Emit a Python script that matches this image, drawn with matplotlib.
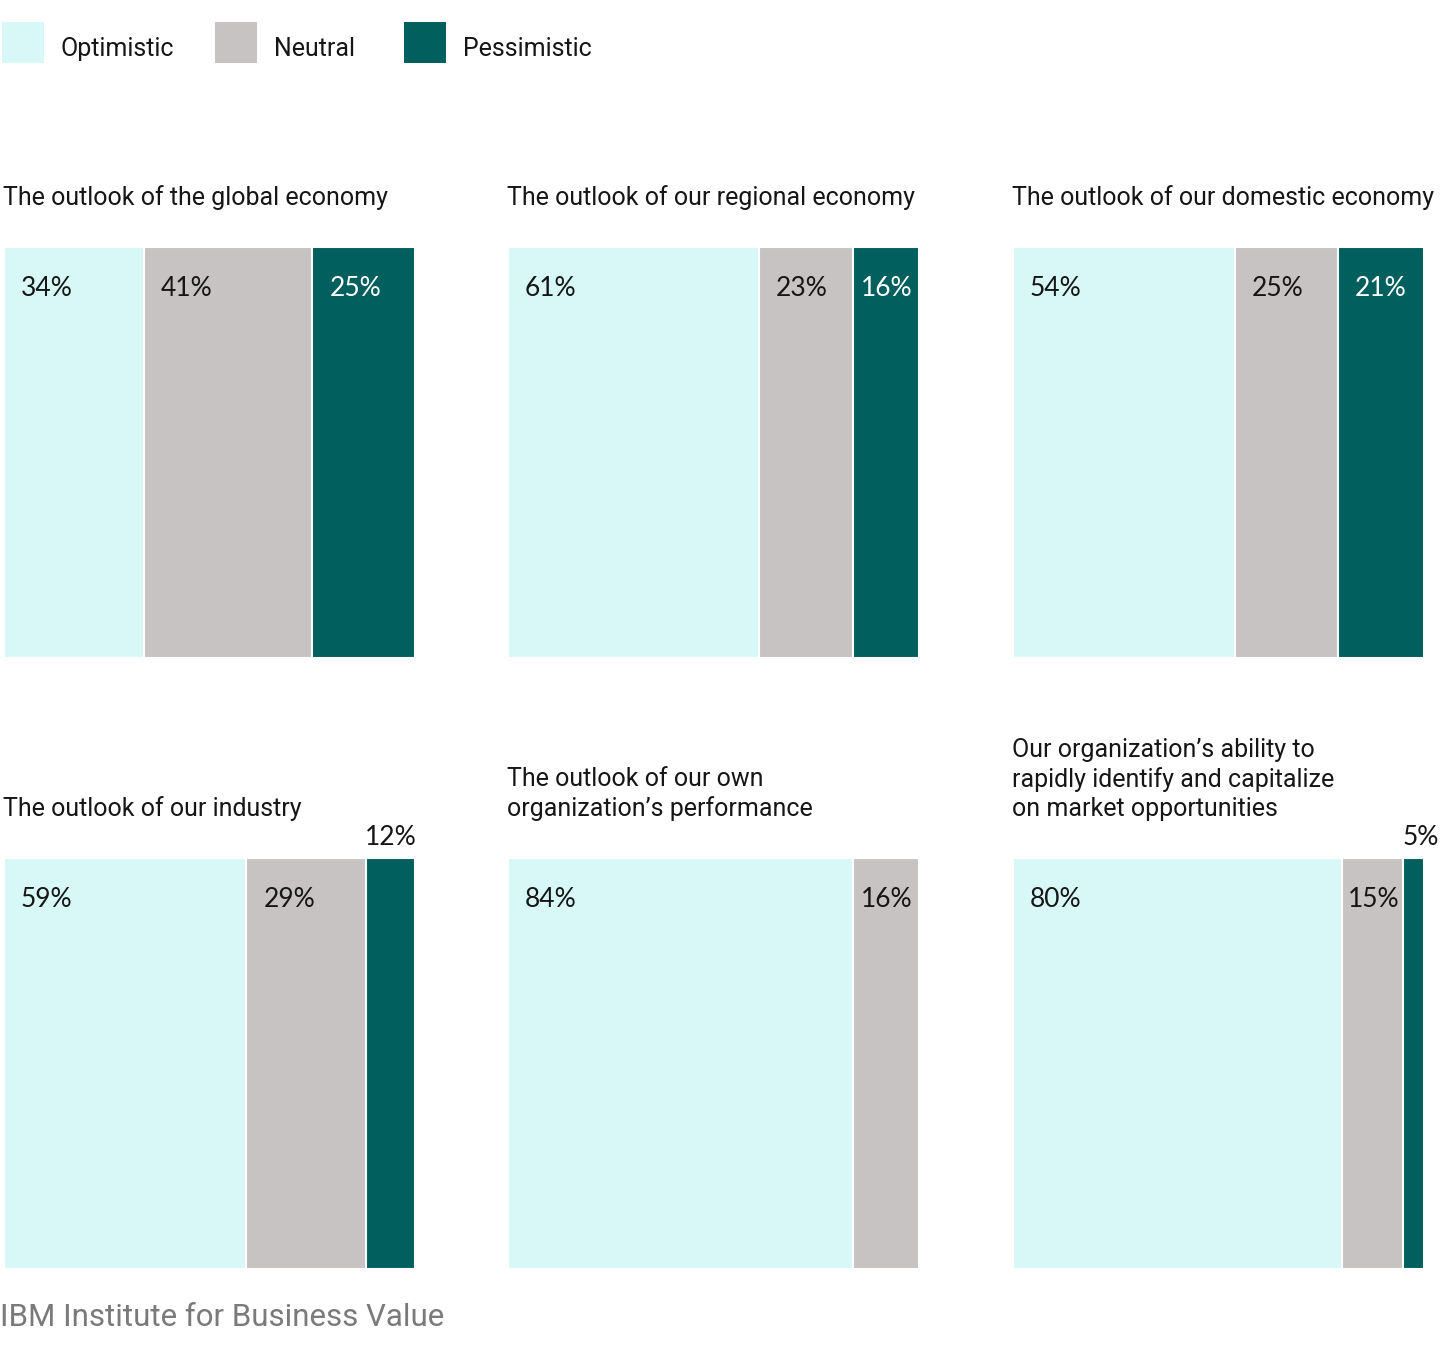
import matplotlib
matplotlib.use("Agg")
import matplotlib.pyplot as plt
from matplotlib.patches import Rectangle

# ---- data ----
categories = [
    "The outlook of the global economy",
    "The outlook of our regional economy",
    "The outlook of our domestic economy",
    "The outlook of our industry",
    "The outlook of our own\norganization\u2019s performance",
    "Our organization\u2019s ability to\nrapidly identify and capitalize\non market opportunities",
]
optimistic = [34, 61, 54, 59, 84, 80]
neutral = [41, 23, 25, 29, 16, 15]
pessimistic = [25, 16, 21, 12, 0, 5]
series_names = ["Optimistic", "Neutral", "Pessimistic"]
footer = "IBM Institute for Business Value"

# ---- style ----
colors = ["#D8F8F8", "#C8C3C3", "#015F5E"]
text_colors = ["#161616", "#161616", "#FFFFFF"]
TITLE_FONT = ["Roboto", "DejaVu Sans"]
LABEL_FONT = ["Lato", "DejaVu Sans"]

W, H = 1456, 1372
fig = plt.figure(figsize=(W / 100, H / 100), dpi=100)
fig.patch.set_facecolor("white")

col_left = [4, 508, 1013]
row_top = [247, 858]
size = 411

# legend
leg_x = [2, 215, 404]
for i, name in enumerate(series_names):
    x0 = leg_x[i]
    fig.patches.append(Rectangle((x0 / W, 1 - 63 / H), 42 / W, 41 / H,
                                 transform=fig.transFigure, facecolor=colors[i],
                                 edgecolor="none"))
    fig.text((x0 + 59) / W, 1 - 49 / H, name, fontsize=18, family=TITLE_FONT,
             fontweight="normal", color="#161616", va="center", ha="left")

for k, cat in enumerate(categories):
    r, c = divmod(k, 3)
    left = col_left[c]
    top = row_top[r]
    ax = fig.add_axes([left / W, 1 - (top + size) / H, size / W, size / H])
    ax.set_xlim(0, 100)
    ax.set_ylim(0, 1)
    ax.axis("off")
    vals = [optimistic[k], neutral[k], pessimistic[k]]
    cum = 0
    unit = size / 100.0  # px per data unit
    for i, v in enumerate(vals):
        if v <= 0:
            continue
        ax.barh(0.5, v, left=cum, height=1.0, color=colors[i],
                edgecolor="white", linewidth=1.5)
        w_px = v * unit
        tw = 50
        label = f"{v}%"
        if w_px < 55:
            ax.text(cum - 0.25, 1 + 13 / size, label, fontsize=19,
                    family=LABEL_FONT, fontweight="normal", color="#161616",
                    ha="left", va="baseline", clip_on=False)
        else:
            off = min(17, (w_px - tw) / 2)
            ax.text(cum + off / unit, 1 - 49 / size, label, fontsize=19,
                    family=LABEL_FONT, fontweight="normal", color=text_colors[i],
                    ha="left", va="baseline")
        cum += v
    ax.text(-0.25, 1 + 42 / size, cat, fontsize=18, family=TITLE_FONT,
            fontweight="normal", color="#161616", ha="left", va="baseline",
            linespacing=1.25, transform=ax.get_xaxis_transform(),
            clip_on=False)

fig.text(0 / W, 1 - 1317 / H, footer, fontsize=22.5, family=TITLE_FONT,
         color="#7A7A7A", va="center", ha="left")

fig.savefig("out.png", dpi=100, facecolor="white")
